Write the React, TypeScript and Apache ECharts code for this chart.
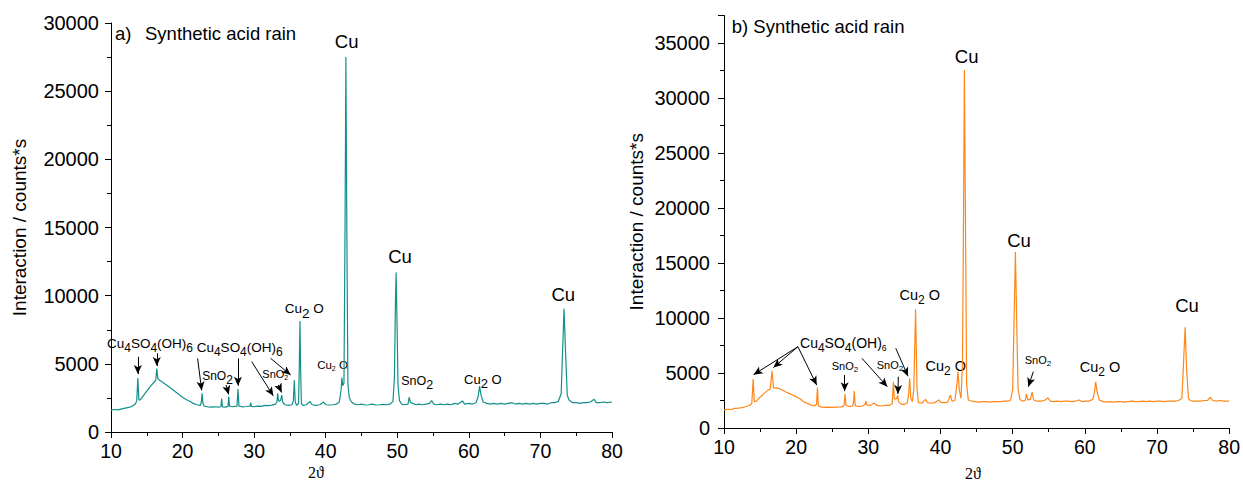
import React, { useEffect, useRef } from "react";
import * as echarts from "echarts";

// ---------- data (2θ in degrees, counts) ----------
const X_MIN = 10;
const X_MAX = 80;
const X_STEP = 10;
const Y_STEP = 5000;
const LEFT_Y_MAX = 30000;
const RIGHT_Y_MAX = 37500;

const LEFT_PATTERN: [number, number][] = [
  [10.0, 1600], [10.5, 1650], [11.0, 1620], [11.5, 1700], [12.0, 1750], [12.5, 1800], [13.0, 1900], [13.4, 2050],
  [13.6, 2300], [13.75, 3950], [13.9, 2350], [14.1, 2350], [14.5, 2650], [15.0, 3000], [15.5, 3350], [16.0, 3650],
  [16.25, 3800], [16.4, 4650], [16.55, 3900], [16.8, 3800], [17.2, 3650], [17.6, 3500], [18.0, 3350], [18.5, 3150],
  [19.0, 2950], [19.5, 2750], [20.0, 2550], [20.5, 2380], [21.0, 2250], [21.5, 2100], [22.0, 2000], [22.5, 1950],
  [22.62, 2200], [22.73, 2830], [22.85, 2100], [23.0, 1900], [23.5, 1850], [24.0, 1830], [24.5, 1850], [25.0, 1820],
  [25.35, 1850], [25.46, 2450], [25.57, 1850], [26.0, 1830], [26.35, 1880], [26.45, 2600], [26.56, 1900], [27.0, 1850],
  [27.6, 1900], [27.74, 3150], [27.88, 1900], [28.3, 1850], [29.0, 1870], [29.42, 1900], [29.52, 2150], [29.62, 1880],
  [30.0, 1850], [30.5, 1900], [31.0, 1880], [31.5, 1950], [32.0, 1930], [32.5, 1970], [33.0, 2050], [33.18, 2200],
  [33.29, 2830], [33.4, 2300], [33.55, 2250], [33.72, 2350], [33.85, 2700], [33.98, 2200], [34.3, 2000], [34.8, 1950],
  [35.3, 2000], [35.48, 2300], [35.61, 3800], [35.74, 2200], [35.95, 1950], [36.2, 2100], [36.3, 4500], [36.4, 8150],
  [36.5, 4500], [36.6, 2100], [36.8, 1950], [37.3, 2000], [37.8, 2250], [38.1, 2000], [38.6, 1950], [39.2, 2000],
  [39.7, 2200], [40.0, 2000], [40.5, 1980], [41.0, 2000], [41.5, 2050], [41.9, 2200], [42.15, 3100], [42.26, 4000],
  [42.38, 3400], [42.55, 3600], [42.7, 15000], [42.82, 27500], [42.95, 15000], [43.1, 3500], [43.3, 2500], [43.6, 2200],
  [44.0, 2050], [44.5, 2000], [45.0, 2050], [45.5, 1980], [46.0, 2000], [46.5, 2050], [47.0, 1980], [47.5, 2000],
  [48.0, 2030], [48.5, 2000], [49.0, 2050], [49.4, 2250], [49.6, 4000], [49.73, 9000], [49.83, 11700], [49.95, 8500],
  [50.1, 3500], [50.3, 2300], [50.6, 2050], [51.0, 2000], [51.5, 2050], [51.66, 2550], [51.85, 2150], [52.2, 2100],
  [52.6, 2000], [53.0, 2050], [53.5, 2000], [54.0, 2050], [54.5, 2100], [54.8, 2300], [55.1, 2050], [55.5, 2000],
  [56.0, 2050], [56.5, 2000], [57.0, 2050], [57.5, 2000], [58.0, 2100], [58.5, 2050], [59.1, 2280], [59.4, 2050],
  [60.0, 2100], [60.5, 2050], [61.0, 2150], [61.3, 2600], [61.5, 3370], [61.7, 2700], [62.0, 2200], [62.5, 2100],
  [63.0, 2050], [63.5, 2100], [64.0, 2050], [64.5, 2100], [65.0, 2050], [65.5, 2100], [66.0, 2150], [66.5, 2050],
  [67.0, 2100], [67.5, 2050], [68.0, 2100], [68.5, 2050], [69.0, 2100], [69.5, 2050], [70.0, 2100], [70.5, 2100],
  [71.0, 2050], [71.5, 2150], [72.0, 2150], [72.5, 2250], [72.9, 2800], [73.1, 6000], [73.3, 9050], [73.5, 6000],
  [73.75, 2700], [74.0, 2350], [74.5, 2150], [75.0, 2150], [75.5, 2100], [76.0, 2150], [76.5, 2150], [77.0, 2200],
  [77.5, 2400], [77.8, 2150], [78.3, 2150], [78.8, 2200], [79.3, 2150], [80.0, 2200],
];

const RIGHT_PATTERN: [number, number][] = [
  [10.0, 1650], [10.5, 1700], [11.0, 1680], [11.5, 1780], [12.0, 1800], [12.5, 1850], [13.0, 1930], [13.5, 2050],
  [13.85, 2200], [14.04, 4450], [14.2, 2400], [14.5, 2450], [15.0, 2800], [15.5, 3100], [16.0, 3400], [16.4, 3550],
  [16.66, 5200], [16.85, 3650], [17.2, 3650], [17.6, 3600], [18.0, 3480], [18.5, 3300], [19.0, 3150], [19.5, 3000],
  [20.0, 2850], [20.5, 2650], [21.0, 2400], [21.5, 2250], [22.0, 2100], [22.5, 2000], [22.82, 2150], [22.95, 3670],
  [23.08, 2000], [23.5, 1900], [24.0, 1880], [24.5, 1900], [25.0, 1880], [25.5, 1900], [26.0, 1920], [26.5, 1950],
  [26.65, 2100], [26.77, 3090], [26.9, 2050], [27.3, 1950], [27.8, 2000], [27.93, 2200], [28.05, 3360], [28.18, 2050],
  [28.6, 1950], [29.2, 2000], [29.55, 2150], [29.66, 2450], [29.78, 2100], [30.2, 2050], [30.8, 2250], [31.2, 2050],
  [31.8, 2000], [32.4, 2050], [32.9, 2050], [33.3, 2200], [33.47, 4200], [33.6, 2700], [33.75, 2600], [33.92, 2700],
  [34.07, 2950], [34.2, 2400], [34.6, 2150], [35.0, 2150], [35.4, 2300], [35.58, 3000], [35.73, 4520], [35.88, 2700],
  [36.1, 2400], [36.3, 3500], [36.55, 10800], [36.75, 3500], [36.95, 2300], [37.4, 2250], [37.93, 2600], [38.2, 2300],
  [38.7, 2250], [39.2, 2300], [39.76, 2550], [40.1, 2300], [40.6, 2300], [41.0, 2350], [41.37, 3000], [41.6, 2450],
  [42.0, 2500], [42.25, 3800], [42.42, 5100], [42.6, 3500], [42.85, 2700], [43.05, 6000], [43.2, 20000], [43.31, 32550],
  [43.45, 20000], [43.62, 4000], [43.85, 2550], [44.3, 2450], [44.8, 2400], [45.3, 2350], [45.8, 2400], [46.3, 2400],
  [46.8, 2350], [47.3, 2400], [47.8, 2400], [48.3, 2400], [48.8, 2450], [49.3, 2450], [49.7, 2500], [50.0, 3500],
  [50.2, 10000], [50.38, 16000], [50.55, 10000], [50.75, 3500], [51.0, 2600], [51.4, 2450], [51.75, 2500], [51.9, 3090],
  [52.1, 2550], [52.45, 2600], [52.7, 3270], [52.9, 2550], [53.3, 2450], [53.9, 2450], [54.4, 2500], [54.9, 2750],
  [55.2, 2450], [55.7, 2400], [56.2, 2450], [56.7, 2400], [57.2, 2450], [57.7, 2450], [58.2, 2400], [58.7, 2450],
  [59.2, 2550], [59.6, 2400], [60.1, 2450], [60.6, 2450], [61.1, 2600], [61.35, 3300], [61.5, 4200], [61.7, 3300],
  [62.0, 2550], [62.5, 2400], [63.0, 2350], [63.5, 2400], [64.0, 2350], [64.5, 2400], [65.0, 2400], [65.5, 2350],
  [66.0, 2400], [66.5, 2450], [67.0, 2400], [67.5, 2400], [68.0, 2450], [68.5, 2400], [69.0, 2450], [69.5, 2400],
  [70.0, 2450], [70.5, 2450], [71.0, 2400], [71.5, 2450], [72.0, 2450], [72.5, 2450], [73.0, 2500], [73.45, 2700],
  [73.65, 5500], [73.9, 9150], [74.1, 5500], [74.35, 2700], [74.6, 2500], [75.0, 2450], [75.5, 2450], [76.0, 2450],
  [76.5, 2500], [77.0, 2500], [77.4, 2800], [77.7, 2500], [78.2, 2450], [78.7, 2500], [79.2, 2450], [80.0, 2450],
];

// arrows: [from, to] in (2θ, counts)
const LEFT_ARROWS: [number, number][][] = [
  [[13.75, 5520], [13.75, 4250]],
  [[16.4, 5770], [16.4, 4850]],
  [[22.1, 5400], [22.67, 3050]],
  [[26.07, 3450], [26.45, 2750]],
  [[27.74, 5400], [27.74, 3400]],
  [[29.66, 5160], [32.68, 2650]],
  [[33.37, 3450], [33.85, 2900]],
  [[32.31, 5400], [35.1, 4180]],
];

const RIGHT_ARROWS: [number, number][][] = [
  [[20.24, 7390], [14.1, 4850]],
  [[20.24, 7390], [16.85, 5500]],
  [[20.24, 7390], [22.85, 3900]],
  [[26.72, 4820], [26.72, 3350]],
  [[29.11, 6340], [32.64, 3750]],
  [[34.16, 4660], [34.1, 3100]],
  [[33.8, 7250], [35.5, 4700]],
  [[52.86, 5120], [52.17, 3750]],
];

const Y_TITLE = "Interaction / counts*s";
const X_TITLE = "2\u03D1";
const TITLE_A_TAG = "a)";
const TITLE_TEXT = "Synthetic acid rain";
const TITLE_B = "b) Synthetic acid rain";

// ---------- styles ----------
const FONT = "'Liberation Sans', Arial, Helvetica, sans-serif";
const SERIF = "'Liberation Serif', 'DejaVu Serif', serif";
const TEAL = "#14908b";
const ORANGE = "#ff8719";

type Lbl = { x: number; y: number; text: string; m: number; s?: number; t?: number };

const LEFT_LABELS: Lbl[] = [
  { x: 346.7, y: 41, text: "Cu", m: 18.5 },
  { x: 400, y: 256, text: "Cu", m: 18.5 },
  { x: 563.3, y: 294, text: "Cu", m: 18.5 },
  { x: 304.3, y: 308.5, text: "Cu{s|2} O", m: 13.5, s: 13.5 },
  { x: 332.5, y: 364.5, text: "Cu{t|2} O", m: 11.5, t: 7 },
  { x: 482.8, y: 379, text: "Cu{s|2} O", m: 13, s: 13 },
  { x: 417.2, y: 381, text: "SnO{s|2}", m: 12.5, s: 12.5 },
  { x: 150, y: 343, text: "Cu{s|4}SO{s|4}(OH){s|6}", m: 13.5, s: 12 },
  { x: 217.5, y: 376, text: "SnO{s|2}", m: 12, s: 12 },
  { x: 239.7, y: 347.5, text: "Cu{s|4}SO{s|4}(OH){s|6}", m: 13.5, s: 12 },
  { x: 275.3, y: 374, text: "SnO{t|2}", m: 11, t: 7 },
];

const RIGHT_LABELS: Lbl[] = [
  { x: 966.7, y: 56.7, text: "Cu", m: 18.5 },
  { x: 1019, y: 240, text: "Cu", m: 18.5 },
  { x: 1187, y: 305, text: "Cu", m: 18.5 },
  { x: 919.7, y: 295, text: "Cu{s|2} O", m: 14.5, s: 12 },
  { x: 945.8, y: 366, text: "Cu{s|2} O", m: 14.5, s: 12 },
  { x: 1100, y: 367, text: "Cu{s|2} O", m: 14.5, s: 12 },
  { x: 1038, y: 360, text: "SnO{t|2}", m: 11, t: 8 },
  { x: 843.3, y: 343, text: "Cu{s|4}SO{s|4}(OH){t|6}", m: 14, s: 12, t: 8.5 },
  { x: 845, y: 366, text: "SnO{t|2}", m: 11, t: 8 },
  { x: 890, y: 365, text: "SnO{t|2}", m: 11, t: 8 },
];

function labelGraphic(l: Lbl) {
  const drop = l.m * 0.35;
  return {
    type: "text",
    x: l.x,
    y: l.y,
    silent: true,
    style: {
      text: l.text,
      align: "center",
      verticalAlign: "middle",
      fill: "#000",
      fontFamily: FONT,
      fontSize: l.m,
      rich: {
        s: { fontSize: l.s || l.m, fontFamily: FONT, fill: "#000", padding: [drop * 2, 0, 0, 0], verticalAlign: "middle" },
        t: { fontSize: l.t || l.m * 0.6, fontFamily: FONT, fill: "#000", padding: [drop * 2, 0, 0, 0], verticalAlign: "middle" },
      },
    },
  };
}

function xAxis(gridIndex: number) {
  return {
    type: "value",
    gridIndex,
    min: X_MIN,
    max: X_MAX,
    interval: X_STEP,
    axisLine: { show: true, onZero: false, lineStyle: { color: "#000", width: 1 } },
    axisTick: { show: true, length: 6, lineStyle: { color: "#000", width: 1 } },
    minorTick: { show: true, splitNumber: 2, length: 4, lineStyle: { color: "#000", width: 1 } },
    splitLine: { show: false },
    minorSplitLine: { show: false },
    axisLabel: { color: "#000", fontSize: 19.5, fontFamily: FONT, margin: 9 },
  };
}

function yAxis(gridIndex: number, max: number, nameGap: number, margin: number) {
  return {
    type: "value",
    gridIndex,
    min: 0,
    max,
    interval: Y_STEP,
    name: Y_TITLE,
    nameLocation: "middle",
    nameRotate: 90,
    nameGap,
    nameTextStyle: { color: "#000", fontSize: 19, fontFamily: FONT },
    axisLine: { show: true, onZero: false, lineStyle: { color: "#000", width: 1 } },
    axisTick: { show: true, length: 6, lineStyle: { color: "#000", width: 1 } },
    minorTick: { show: true, splitNumber: 2, length: 4, lineStyle: { color: "#000", width: 1 } },
    splitLine: { show: false },
    minorSplitLine: { show: false },
    axisLabel: {
      color: "#000",
      fontSize: 20,
      fontFamily: FONT,
      margin,
      showMaxLabel: max % Y_STEP === 0,
      formatter: (v: number) => String(v),
    },
  };
}

function arrowMarks(arrows: [number, number][][]) {
  return {
    silent: true,
    symbol: ["none", "arrow"],
    symbolSize: [6, 9],
    lineStyle: { color: "#000", width: 1, type: "solid" },
    label: { show: false },
    emphasis: { disabled: true },
    data: arrows.map((a) => [{ coord: a[0] }, { coord: a[1] }]),
  };
}

export default function App() {
  const ref = useRef<HTMLDivElement>(null);
  useEffect(() => {
    if (!ref.current) return;
    const chart = echarts.init(ref.current, null, { renderer: "svg" });
    const option: any = {
      animation: false,
      backgroundColor: "#fff",
      grid: [
        { left: 111, top: 23, width: 501, height: 409 },
        { left: 724, top: 15.5, width: 508, height: 412.5 },
      ],
      xAxis: [xAxis(0), xAxis(1)],
      yAxis: [yAxis(0, LEFT_Y_MAX, 82, 12), yAxis(1, RIGHT_Y_MAX, 78, 14)],
      series: [
        {
          type: "line",
          xAxisIndex: 0,
          yAxisIndex: 0,
          data: LEFT_PATTERN,
          showSymbol: false,
          symbol: "none",
          silent: true,
          lineStyle: { color: TEAL, width: 1.2 },
          itemStyle: { color: TEAL },
          markLine: arrowMarks(LEFT_ARROWS),
        },
        {
          type: "line",
          xAxisIndex: 1,
          yAxisIndex: 1,
          data: RIGHT_PATTERN,
          showSymbol: false,
          symbol: "none",
          silent: true,
          lineStyle: { color: ORANGE, width: 1.2 },
          itemStyle: { color: ORANGE },
          markLine: arrowMarks(RIGHT_ARROWS),
        },
      ],
      graphic: [
        { type: "text", x: 115, y: 33, silent: true, style: { text: TITLE_A_TAG, fontSize: 18.5, fontFamily: FONT, fill: "#000", align: "left", verticalAlign: "middle" } },
        { type: "text", x: 145, y: 33, silent: true, style: { text: TITLE_TEXT, fontSize: 18.5, fontFamily: FONT, fill: "#000", align: "left", verticalAlign: "middle" } },
        { type: "text", x: 731.7, y: 26, silent: true, style: { text: TITLE_B, fontSize: 18.5, fontFamily: FONT, fill: "#000", align: "left", verticalAlign: "middle" } },
        { type: "text", x: 316, y: 472, silent: true, style: { text: X_TITLE, fontSize: 16, fontFamily: SERIF, fill: "#000", align: "center", verticalAlign: "middle" } },
        { type: "text", x: 973, y: 473, silent: true, style: { text: X_TITLE, fontSize: 16, fontFamily: SERIF, fill: "#000", align: "center", verticalAlign: "middle" } },
        ...LEFT_LABELS.map(labelGraphic),
        ...RIGHT_LABELS.map(labelGraphic),
      ],
    };
    chart.setOption(option);
    return () => chart.dispose();
  }, []);
  return <div ref={ref} style={{ position: "absolute", left: 0, top: 0, width: 1243, height: 483 }} />;
}
